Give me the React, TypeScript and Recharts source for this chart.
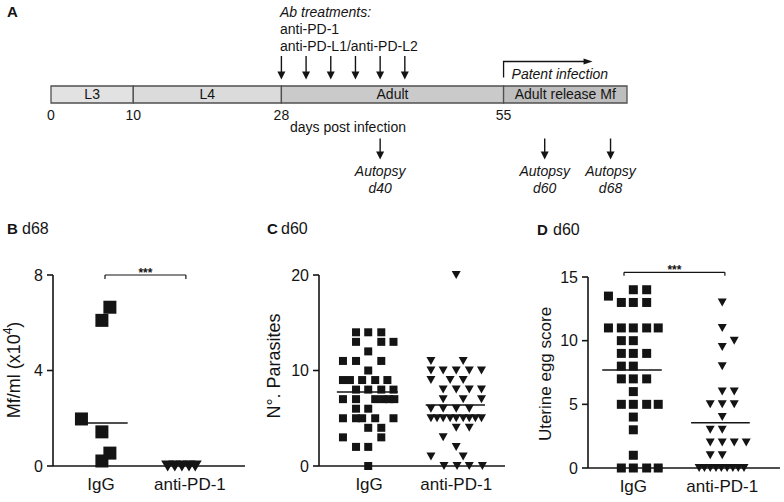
import React from 'react'
import {
  BarChart,
  Bar,
  XAxis,
  YAxis,
  LabelList,
  ReferenceDot,
  ReferenceLine,
  ScatterChart,
  Scatter,
} from 'recharts'

const FONT = '"Liberation Sans", Arial, Helvetica, sans-serif'
const INK = '#141414'

type Pt = [number, number]

// ---------- A: infection timeline (days post infection) ----------
const stageNames = ['L3', 'L4', 'Adult', 'Adult release Mf']
const stageDays = [10, 18, 27, 15]
const stageFills = ['#e2e2e2', '#dbdbdb', '#cacaca', '#bebebe']
const stageTicks = [0, 10, 28, 55]
const treatmentDays = [28, 31, 34, 37, 40, 43]
const autopsyDays = [40, 60, 68]
const patentStart = 55

// ---------- B: d68, Mf/ml (x10^4) ----------
const groups = ['IgG', 'anti-PD-1']
const mfIgG: Pt[] = [[1.1, 6.65], [1.01, 6.1], [0.78, 1.97], [1.01, 1.43], [1.1, 0.54], [1.01, 0.21]]
const mfAnti: Pt[] = [[1.75, 0], [1.83, 0], [1.91, 0], [1.99, 0], [2.06, 0]]
const mfIgGLine = 1.8

// ---------- C: d60, number of parasites ----------
const parasitesIgG: Pt[] = [
  [0.85, 14], [0.99, 14], [1.14, 14],
  [0.85, 13], [1.14, 13], [1.28, 13],
  [0.99, 12],
  [0.7, 11], [0.85, 11], [1.14, 11],
  [0.99, 10],
  [0.7, 9], [0.78, 9], [0.92, 9], [1.07, 9], [1.21, 9],
  [0.85, 8], [0.99, 8], [1.14, 8], [1.28, 8],
  [0.7, 7], [0.85, 7], [1.07, 7], [1.16, 7], [1.23, 7], [1.29, 7],
  [0.85, 6], [0.99, 6],
  [0.7, 5], [0.85, 5], [0.92, 5], [1.07, 5], [1.28, 5],
  [0.99, 4], [1.14, 4],
  [0.7, 3], [1.14, 3],
  [0.85, 2], [0.99, 2],
  [0.99, 0],
]
const parasitesAnti: Pt[] = [
  [2.0, 20],
  [1.71, 11], [2.08, 11],
  [1.71, 10], [1.85, 10], [2.0, 10], [2.15, 10], [2.29, 10],
  [1.71, 9], [1.93, 9], [2.08, 9],
  [1.85, 8], [2.0, 8], [2.15, 8], [2.29, 8],
  [1.85, 7], [2.08, 7], [2.29, 7],
  [1.71, 6], [1.85, 6], [2.0, 6], [2.15, 6],
  [1.71, 5], [1.78, 5], [1.85, 5], [1.93, 5], [2.0, 5], [2.08, 5], [2.15, 5], [2.22, 5], [2.29, 5],
  [2.0, 4], [2.15, 4],
  [1.85, 3],
  [2.0, 2],
  [1.71, 1], [2.08, 1],
  [1.86, 0], [2.01, 0], [2.15, 0], [2.3, 0],
]
const parasitesIgGLine = 7.75
const parasitesAntiLine = 6.4

// ---------- D: d60, uterine egg score ----------
const eggIgG: Pt[] = [
  [1.0, 14], [1.15, 14],
  [0.72, 13.5],
  [0.865, 13], [1.0, 13], [1.15, 13],
  [0.72, 11], [0.865, 11], [1.0, 11], [1.15, 11], [1.28, 11],
  [0.865, 10], [1.0, 10],
  [0.865, 9], [1.0, 9], [1.15, 9],
  [0.865, 8], [1.0, 8],
  [0.865, 7], [1.0, 7], [1.15, 7],
  [1.0, 6],
  [0.865, 5], [1.0, 5], [1.15, 5], [1.28, 5],
  [1.0, 4],
  [1.0, 3],
  [1.0, 1],
  [0.865, 0], [1.0, 0], [1.15, 0], [1.28, 0],
]
const eggAnti: Pt[] = [
  [2.0, 13], [2.0, 11], [2.135, 10], [2.0, 9.5], [2.0, 8],
  [2.0, 6], [2.135, 6],
  [1.865, 5], [2.0, 5], [2.135, 5],
  [2.0, 4],
  [1.865, 3], [2.0, 3],
  [1.865, 2], [2.0, 2], [2.135, 2], [2.27, 2],
  [1.865, 1], [2.0, 1],
  [1.74, 0], [1.8, 0], [1.865, 0], [1.93, 0], [1.99, 0], [2.055, 0], [2.12, 0], [2.18, 0], [2.245, 0],
]
const eggIgGLine = 7.7
const eggAntiLine = 3.55

const toRows = (pts: Pt[]) => pts.map(([x, y]) => ({ x, y }))

// marker shapes
const square = (s: number) => (p: any) =>
  p.cx == null ? <g /> : <rect x={p.cx - s / 2} y={p.cy - s / 2} width={s} height={s} fill={INK} />

const triangle = (w: number, h: number) => (p: any) =>
  p.cx == null ? (
    <g />
  ) : (
    <polygon
      points={`${p.cx - w / 2},${p.cy - h / 2} ${p.cx + w / 2},${p.cy - h / 2} ${p.cx},${p.cy + h / 2}`}
      fill={INK}
    />
  )

function downArrow(x: number, y1: number, y2: number) {
  return (
    <g>
      <line x1={x} y1={y1} x2={x} y2={y2 - 6} stroke={INK} strokeWidth={1.4} />
      <polygon points={`${x - 4},${y2 - 8} ${x + 4},${y2 - 8} ${x},${y2}`} fill={INK} />
    </g>
  )
}

function Timeline() {
  const row: Record<string, any> = { row: 'dpi' }
  stageNames.forEach((_, i) => (row[`s${i}`] = stageDays[i]))

  return (
    <div style={{ position: 'absolute', left: 0, top: 0 }}>
      <BarChart
        width={784}
        height={220}
        layout="vertical"
        data={[row]}
        margin={{ top: 86, right: 157, left: 51, bottom: 97 }}
        barCategoryGap={0}
      >
        <XAxis
          type="number"
          domain={[0, 70]}
          ticks={stageTicks}
          axisLine={false}
          tickLine={false}
          tickSize={0}
          tickMargin={7}
          height={20}
          tick={{ fontSize: 14, fill: INK }}
        />
        <YAxis type="category" dataKey="row" hide />
        {stageNames.map((name, i) => (
          <Bar
            key={name}
            dataKey={`s${i}`}
            stackId="t"
            fill={stageFills[i]}
            stroke="#505050"
            strokeWidth={1.3}
            isAnimationActive={false}
          >
            <LabelList dataKey={`s${i}`} position="center" formatter={() => name} fill={INK} fontSize={14} />
          </Bar>
        ))}
        {treatmentDays.map((d) => (
          <ReferenceDot
            key={`t${d}`}
            x={d}
            y="dpi"
            r={0}
            ifOverflow="visible"
            shape={(p: any) => downArrow(p.cx, p.cy - 38.5, p.cy - 15)}
          />
        ))}
        {autopsyDays.map((d) => (
          <ReferenceDot
            key={`a${d}`}
            x={d}
            y="dpi"
            r={0}
            ifOverflow="visible"
            shape={(p: any) => (
              <g>
                {downArrow(p.cx, p.cy + 44, p.cy + 65)}
                <text x={p.cx} y={p.cy + 81.5} textAnchor="middle" fontStyle="italic" fontSize={14} fill={INK}>
                  Autopsy
                </text>
                <text x={p.cx} y={p.cy + 98.5} textAnchor="middle" fontStyle="italic" fontSize={14} fill={INK}>
                  {`d${d}`}
                </text>
              </g>
            )}
          />
        ))}
        <ReferenceDot
          x={patentStart}
          y="dpi"
          r={0}
          ifOverflow="visible"
          shape={(p: any) => (
            <g>
              <path
                d={`M${p.cx},${p.cy - 17} V${p.cy - 33} H${p.cx + 81}`}
                fill="none"
                stroke={INK}
                strokeWidth={1.3}
              />
              <polygon
                points={`${p.cx + 80},${p.cy - 36} ${p.cx + 89},${p.cy - 33} ${p.cx + 80},${p.cy - 30}`}
                fill={INK}
              />
              <text x={p.cx + 8} y={p.cy - 15.5} fontStyle="italic" fontSize={14} fill={INK}>
                Patent infection
              </text>
            </g>
          )}
        />
      </BarChart>
    </div>
  )
}

interface PanelProps {
  left: number
  top: number
  width: number
  height: number
  plotTop: number
  right: number
  yWidth: number
  xHeight: number
  xDomain: [number, number]
  yMax: number
  yTicks: number[]
  yLabel: React.ReactNode
  yLabelX: number
  yLabelY: number
  yLabelSize: number
  igg: Pt[]
  anti: Pt[]
  lines: { y: number; x1: number; x2: number }[]
  sq: number
  triW: number
  triH: number
  bracket?: { x1: number; x2: number; y: number; drop: number }
}

function DotPanel(props: PanelProps) {
  const { bracket } = props
  const axisStyle = { stroke: INK, strokeWidth: 1.6 }
  return (
    <div style={{ position: 'absolute', left: props.left, top: props.top }}>
      <ScatterChart
        width={props.width}
        height={props.height}
        margin={{ top: props.plotTop, right: props.right, left: 0, bottom: 0 }}
      >
        <XAxis
          type="number"
          dataKey="x"
          domain={props.xDomain}
          ticks={[1, 2]}
          tickFormatter={(v: number) => groups[v - 1]}
          axisLine={axisStyle}
          tickLine={false}
          tickSize={0}
          tickMargin={12}
          height={props.xHeight}
          tick={{ fontSize: 17, fill: INK }}
        />
        <YAxis
          type="number"
          dataKey="y"
          domain={[0, props.yMax]}
          ticks={props.yTicks}
          width={props.yWidth}
          axisLine={axisStyle}
          tickLine={axisStyle}
          tickSize={6}
          tickMargin={4}
          tick={{ fontSize: 16, fill: INK }}
        />
        <Scatter data={toRows(props.igg)} shape={square(props.sq)} isAnimationActive={false} />
        <Scatter data={toRows(props.anti)} shape={triangle(props.triW, props.triH)} isAnimationActive={false} />
        {props.lines.map((l, i) => (
          <ReferenceLine
            key={i}
            segment={[
              { x: l.x1, y: l.y },
              { x: l.x2, y: l.y },
            ]}
            stroke={INK}
            strokeWidth={1.5}
            ifOverflow="visible"
          />
        ))}
        {bracket && (
          <ReferenceLine
            segment={[
              { x: bracket.x1, y: bracket.y },
              { x: bracket.x2, y: bracket.y },
            ]}
            stroke={INK}
            strokeWidth={1.2}
            ifOverflow="visible"
          />
        )}
        {bracket &&
          [bracket.x1, bracket.x2].map((bx) => (
            <ReferenceLine
              key={bx}
              segment={[
                { x: bx, y: bracket.y },
                { x: bx, y: bracket.y - bracket.drop },
              ]}
              stroke={INK}
              strokeWidth={1.2}
              ifOverflow="visible"
            />
          ))}
        {bracket && (
          <ReferenceDot
            x={(bracket.x1 + bracket.x2) / 2}
            y={bracket.y}
            r={0}
            ifOverflow="visible"
            shape={(p: any) => (
              <text x={p.cx} y={p.cy + 1.5} textAnchor="middle" fontSize={12} fontWeight="bold" fill={INK}>
                ***
              </text>
            )}
          />
        )}
      </ScatterChart>
      <svg
        width={props.width}
        height={props.height}
        style={{ position: 'absolute', left: 0, top: 0, pointerEvents: 'none' }}
      >
        <text
          x={props.yLabelX}
          y={props.yLabelY}
          transform={`rotate(-90 ${props.yLabelX} ${props.yLabelY})`}
          textAnchor="middle"
          dominantBaseline="central"
          fontSize={props.yLabelSize}
          fontFamily={FONT}
          fill={INK}
        >
          {props.yLabel}
        </text>
      </svg>
    </div>
  )
}

export default function App() {
  const txt = { fontFamily: FONT, fill: INK }
  return (
    <div
      style={{
        position: 'absolute',
        left: 0,
        top: 0,
        width: 784,
        height: 502,
        background: '#fff',
        fontFamily: FONT,
        overflow: 'hidden',
      }}
    >
      <Timeline />

      <DotPanel
        left={0}
        top={220}
        width={260}
        height={282}
        plotTop={55}
        right={15}
        yWidth={53}
        xHeight={36}
        xDomain={[0.46, 2.62]}
        yMax={8}
        yTicks={[0, 4, 8]}
        yLabel={
          <>
            Mf/ml (x10
            <tspan dy={-6} fontSize={12}>
              4
            </tspan>
            <tspan dy={6}>)</tspan>
          </>
        }
        yLabelX={13.5}
        yLabelY={150}
        yLabelSize={18}
        igg={mfIgG}
        anti={mfAnti}
        lines={[{ y: mfIgGLine, x1: 0.71, x2: 1.3 }]}
        sq={13}
        triW={13}
        triH={11}
        bracket={{ x1: 1.045, x2: 1.955, y: 8.0, drop: 0.17 }}
      />

      <DotPanel
        left={260}
        top={220}
        width={260}
        height={282}
        plotTop={55}
        right={15}
        yWidth={59}
        xHeight={36}
        xDomain={[0.425, 2.56]}
        yMax={20}
        yTicks={[0, 10, 20]}
        yLabel="N°. Parasites"
        yLabelX={14}
        yLabelY={146}
        yLabelSize={18}
        igg={parasitesIgG}
        anti={parasitesAnti}
        lines={[
          { y: parasitesIgGLine, x1: 0.63, x2: 1.33 },
          { y: parasitesAntiLine, x1: 1.65, x2: 2.33 },
        ]}
        sq={8}
        triW={9}
        triH={8}
      />

      <DotPanel
        left={520}
        top={220}
        width={264}
        height={282}
        plotTop={57}
        right={4}
        yWidth={68}
        xHeight={34}
        xDomain={[0.49, 2.65]}
        yMax={15}
        yTicks={[0, 5, 10, 15]}
        yLabel="Uterine egg score"
        yLabelX={25}
        yLabelY={154}
        yLabelSize={17}
        igg={eggIgG}
        anti={eggAnti}
        lines={[
          { y: eggIgGLine, x1: 0.65, x2: 1.32 },
          { y: eggAntiLine, x1: 1.65, x2: 2.31 },
        ]}
        sq={9}
        triW={9}
        triH={8}
        bracket={{ x1: 0.895, x2: 2.03, y: 15.37, drop: 0.27 }}
      />

      <svg
        width={784}
        height={502}
        style={{ position: 'absolute', left: 0, top: 0, pointerEvents: 'none' }}
      >
        <text x={7} y={17} fontSize={15} fontWeight="bold" {...txt}>A</text>
        <text x={280} y={17} fontSize={14} fontStyle="italic" {...txt}>Ab treatments:</text>
        <text x={280} y={34} fontSize={14} {...txt}>anti-PD-1</text>
        <text x={280} y={51} fontSize={14} {...txt}>anti-PD-L1/anti-PD-L2</text>
        <text x={290} y={132} fontSize={14} {...txt}>days post infection</text>

        <text x={7} y={234} fontSize={15} fontWeight="bold" {...txt}>B</text>
        <text x={22} y={234} fontSize={16} {...txt}>d68</text>
        <text x={267} y={234} fontSize={15} fontWeight="bold" {...txt}>C</text>
        <text x={281} y={234} fontSize={16} {...txt}>d60</text>
        <text x={537} y={235} fontSize={15} fontWeight="bold" {...txt}>D</text>
        <text x={553} y={235} fontSize={16} {...txt}>d60</text>
      </svg>
    </div>
  )
}
